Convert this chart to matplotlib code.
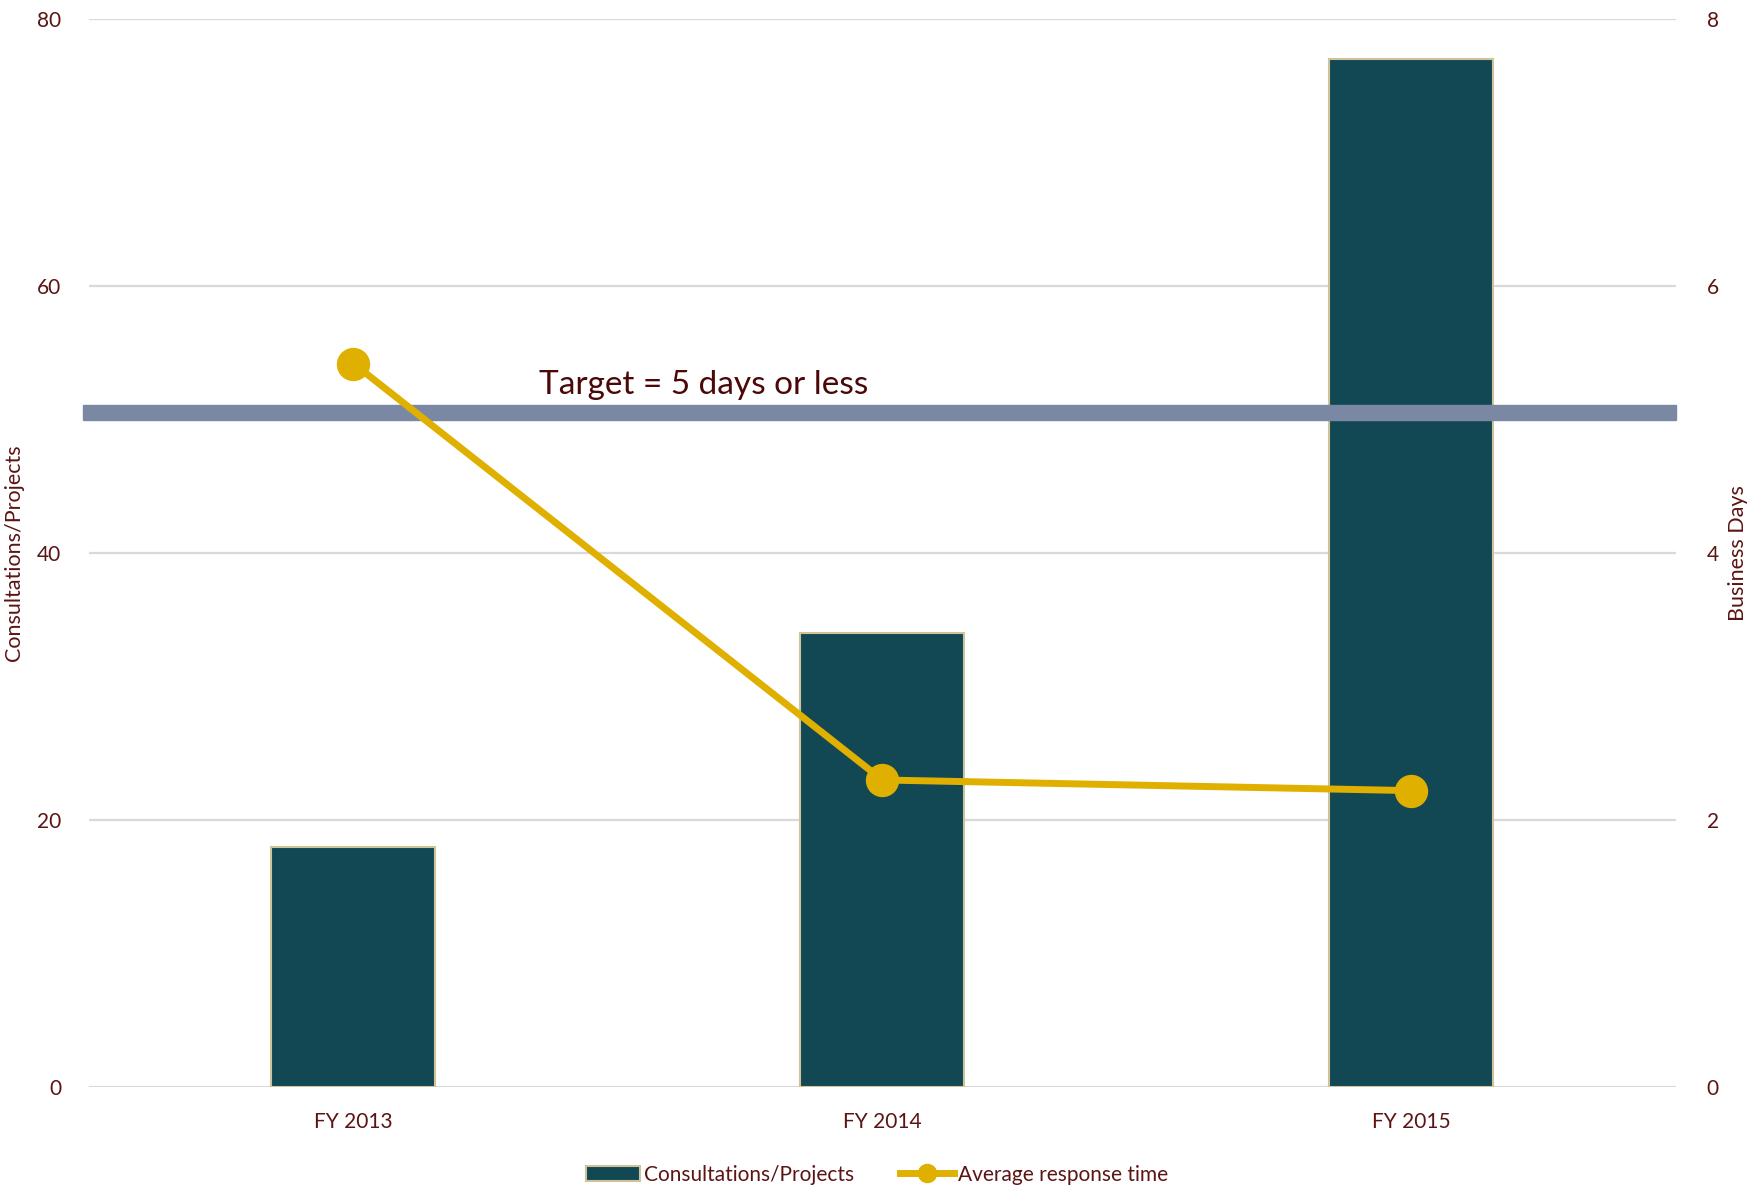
import matplotlib
matplotlib.use("Agg")
import matplotlib.pyplot as plt
from matplotlib.lines import Line2D
from matplotlib.patches import Patch

plt.rcParams['font.family'] = ['Lato', 'DejaVu Sans']

# Data
categories = ["FY 2013", "FY 2014", "FY 2015"]
consultations = [18, 34, 77]
avg_response_days = [5.42, 2.30, 2.22]
TARGET_DAYS = 5
left_ticks = [0, 20, 40, 60, 80]
right_ticks = [0, 2, 4, 6, 8]

TEXT = "#5c1414"
BAR = "#124853"
BAR_EDGE = "#cfc39a"
LINE = "#e0b000"
TARGET_COLOR = "#7a88a4"
GRID = "#d9d9d9"

fig = plt.figure(figsize=(17.54, 11.95), dpi=100)
ax = fig.add_axes([0.0507, 0.0904, 0.9048, 0.8936])
ax2 = ax.twinx()

x = list(range(len(categories)))
ax.bar(x, consultations, width=0.31, color=BAR, edgecolor=BAR_EDGE, linewidth=1.5, zorder=2)
ax.set_xlim(-0.5, len(categories) - 0.5)
ax.set_ylim(0, 80)
ax.set_yticks(left_ticks)
ax.yaxis.grid(True, color=GRID, linewidth=1.6)
ax.set_axisbelow(True)
ax.set_xticks(x)
ax.set_xticklabels(categories)

ax2.set_ylim(0, 8)
ax2.set_yticks(right_ticks)

# Target band
ax2.axhspan(TARGET_DAYS, TARGET_DAYS + 0.11, xmin=-0.004, xmax=1.0,
            color=TARGET_COLOR, zorder=3, clip_on=False)
ax2.text(0.35, TARGET_DAYS + 0.19, "Target = 5 days or less", fontsize=24,
         color="#4a0808", ha="left", va="baseline", zorder=5)

ax2.plot(x, avg_response_days, color=LINE, linewidth=5, marker="o",
         markersize=23, zorder=4)

for a in (ax, ax2):
    for s in a.spines.values():
        s.set_visible(False)
    a.tick_params(length=0, labelsize=15, colors=TEXT)
ax.tick_params(axis='x', pad=18)
ax.tick_params(axis='y', pad=20)
ax2.tick_params(axis='y', pad=22)

ax.set_ylabel("Consultations/Projects", fontsize=15.5, color=TEXT, labelpad=9)
ax2.set_ylabel("Business Days", fontsize=15.5, color=TEXT, labelpad=7)

handles = [
    Patch(facecolor=BAR, edgecolor=BAR_EDGE, linewidth=1.5),
    Line2D([0], [0], color=LINE, linewidth=5, marker="o", markersize=13),
]
leg = fig.legend(handles, ["Consultations/Projects", "Average response time"],
                 loc="center", bbox_to_anchor=(0.5, 0.017), ncol=2, frameon=False,
                 fontsize=15, handlelength=2.6, handletextpad=0.2, columnspacing=2.2)
for t in leg.get_texts():
    t.set_color(TEXT)

fig.savefig("out.png", dpi=100)
